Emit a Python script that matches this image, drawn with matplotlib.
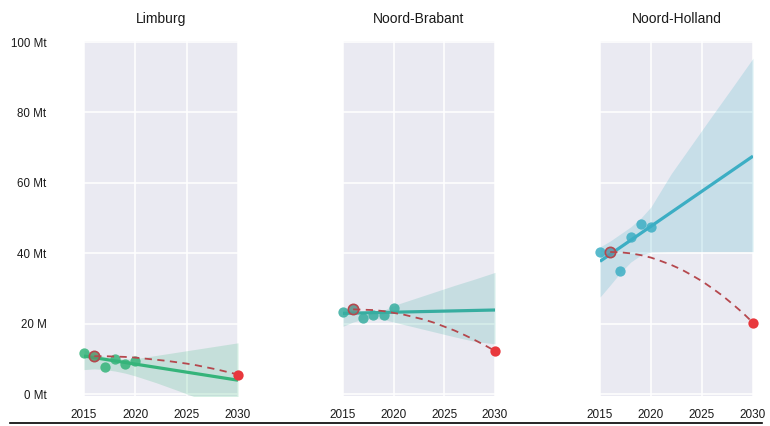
import numpy as np
import matplotlib
matplotlib.use("Agg")
import matplotlib.pyplot as plt
from matplotlib.lines import Line2D

plt.rcParams['font.family'] = ['Liberation Sans', 'DejaVu Sans']

# ---------------- data ----------------
provinces = ["Limburg", "Noord-Brabant", "Noord-Holland"]
years = [2015, 2016, 2017, 2018, 2019, 2020]

limburg_vals = [11.8, 10.8, 7.6, 9.9, 8.7, 9.4]
brabant_vals = [23.4, 24.1, 21.7, 22.4, 22.6, 24.6]
holland_vals = [40.3, 40.4, 35.0, 44.7, 48.4, 47.5]

# confidence band edges
band_years = [2015, 2016, 2017, 2018, 2019, 2020, 2022, 2024, 2026, 2028, 2030]
limburg_lo = [7.0, 7.2, 7.0, 6.6, 6.0, 5.2, 3.3, 1.2, -1.0, -3.2, -5.4]
limburg_hi = [12.6, 11.6, 10.7, 10.2, 10.0, 10.1, 11.0, 11.9, 12.8, 13.7, 14.6]
brabant_lo = [19.3, 20.5, 21.3, 21.5, 21.2, 20.5, 19.1, 17.7, 16.3, 15.0, 14.3]
brabant_hi = [24.5, 23.8, 23.4, 23.3, 23.8, 25.2, 27.1, 29.0, 30.9, 32.7, 34.6]
holland_lo = [27.6, 31.0, 34.5, 37.5, 39.5, 40.4, 40.5, 40.5, 40.5, 40.5, 40.5]
holland_hi = [41.8, 43.5, 45.5, 47.5, 50.0, 53.2, 62.7, 70.9, 79.1, 87.2, 95.4]

# target path (dashed) 2016 -> 2030
path_years = list(range(2016, 2031))
limburg_path = [10.8, 10.8, 10.7, 10.6, 10.4, 10.1, 9.8, 9.5, 9.1, 8.7, 8.2, 7.6, 7.0, 6.3, 5.6]
brabant_path = [24.1, 24.0, 23.9, 23.6, 23.1, 22.6, 21.9, 21.2, 20.3, 19.2, 18.1, 16.8, 15.4, 13.9, 12.3]
holland_path = [40.4, 40.3, 40.0, 39.5, 38.8, 37.8, 36.7, 35.4, 33.8, 32.1, 30.1, 28.0, 25.6, 23.1, 20.3]

y_ticks = [0, 20, 40, 60, 80, 100]
y_labels = ["0 Mt", "20 M", "40 Mt", "60 Mt", "80 Mt", "100 Mt"]
x_ticks = [2015, 2020, 2025, 2030]

colors = ["#35b47a", "#37ada0", "#3caec4"]

series = [
    (limburg_vals, limburg_lo, limburg_hi, limburg_path),
    (brabant_vals, brabant_lo, brabant_hi, brabant_path),
    (holland_vals, holland_lo, holland_hi, holland_path),
]

# ---------------- figure ----------------
W, H = 770, 426
fig = plt.figure(figsize=(W / 100, H / 100), dpi=100)
fig.patch.set_facecolor("white")

lefts = [84, 343, 600]
rights = [238, 495, 753]
top_px, bot_px = 41, 396

dash_col = "#b5474d"
end_col = "#e8383d"

for i, (name, (vals, lo, hi, path)) in enumerate(zip(provinces, series)):
    ax = fig.add_axes([lefts[i] / W, (H - bot_px) / H,
                       (rights[i] - lefts[i]) / W, (bot_px - top_px) / H])
    ax.set_facecolor("#eaeaf2")
    for s in ax.spines.values():
        s.set_visible(False)
    ax.set_axisbelow(True)
    ax.grid(True, color="white", linewidth=1.1)
    ax.set_xlim(2015, 2030)
    ax.set_ylim(-0.5, 100.3)
    ax.set_xticks(x_ticks)
    ax.set_xticklabels([str(t) for t in x_ticks], fontsize=8.5, color="#1a1a1a")
    ax.set_yticks(y_ticks)
    if i == 0:
        ax.set_yticklabels(y_labels, fontsize=8.3, color="#1a1a1a")
    else:
        ax.set_yticklabels([])
    ax.tick_params(axis="both", length=0)
    ax.tick_params(axis="y", pad=27)
    ax.tick_params(axis="x", pad=9)
    ax.set_title(name, fontsize=10, pad=13, color="#1a1a1a")

    c = colors[i]
    # confidence band
    ax.fill_between(band_years, lo, hi, color=c, alpha=0.2, linewidth=0)
    # regression line
    coef = np.polyfit(years, vals, 1)
    xr = np.array([2015, 2030])
    ax.plot(xr, np.polyval(coef, xr), color=c, linewidth=2.3, solid_capstyle="butt", zorder=3)
    # points
    ax.scatter(years, vals, s=55, color=c, alpha=0.85, linewidths=0, zorder=4, clip_on=False)
    # target path
    ax.plot(path_years, path, color=dash_col, linewidth=1.3, dashes=(4, 3), zorder=5)
    # start marker (hollow ring)
    ax.scatter([path_years[0]], [path[0]], s=55, facecolor=(0.72, 0.3, 0.32, 0.25),
               edgecolor=dash_col, linewidths=1.2, zorder=6, clip_on=False)
    # end marker
    ax.scatter([path_years[-1]], [path[-1]], s=55, color=end_col, linewidths=0,
               zorder=6, clip_on=False)

# bottom rule
fig.add_artist(Line2D([10 / W, 762 / W], [(H - 423) / H] * 2, color="black", linewidth=1.2))

fig.savefig("out.png", dpi=100)
